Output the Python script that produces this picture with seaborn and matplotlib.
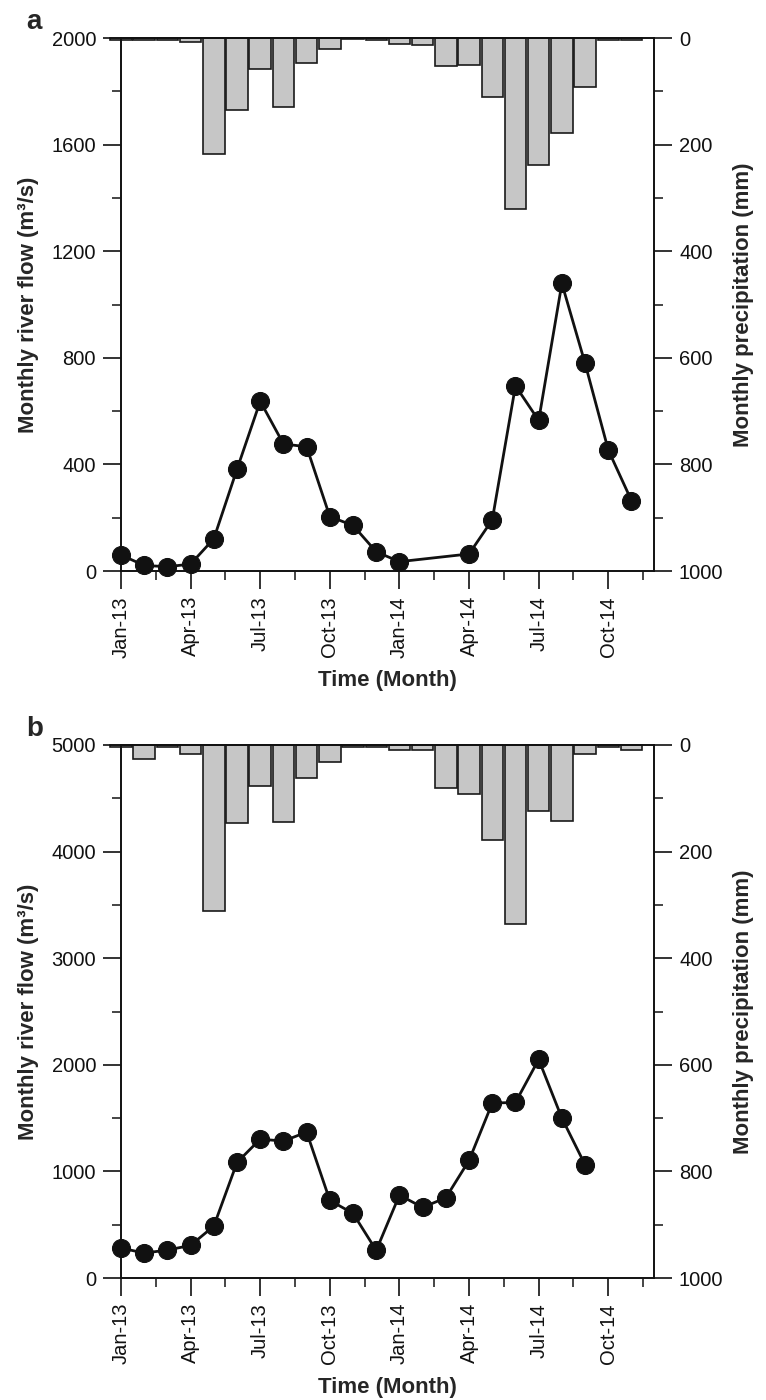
import numpy as np
import pandas as pd
import matplotlib
matplotlib.use("Agg")
import matplotlib.pyplot as plt
import seaborn as sns
from matplotlib.ticker import FixedLocator, MultipleLocator

# monthly series, Jan-13 .. Nov-14
months = ["Jan-13", "Feb-13", "Mar-13", "Apr-13", "May-13", "Jun-13", "Jul-13", "Aug-13",
          "Sep-13", "Oct-13", "Nov-13", "Dec-13", "Jan-14", "Feb-14", "Mar-14", "Apr-14",
          "May-14", "Jun-14", "Jul-14", "Aug-14", "Sep-14", "Oct-14", "Nov-14"]
tick_labels = ["Jan-13", "Apr-13", "Jul-13", "Oct-13", "Jan-14", "Apr-14", "Jul-14", "Oct-14"]

nan = np.nan
# panel a
flow_a = [60, 21, 16, 26, 121, 382, 637, 477, 466, 204, 171, 72, 35, nan, nan, 64,
          192, 695, 565, 1079, 779, 454, 264]
precip_a = [4, 4, 4, 7, 217, 136, 58, 129, 47, 21, 2, 4, 11, 14, 52, 51,
            111, 320, 238, 178, 92, 4, 4]
# panel b
flow_b = [281, 234, 262, 306, 487, 1084, 1303, 1284, 1369, 728, 606, 259, 778, 662, 753, 1103,
          1641, 1647, 2050, 1500, 1062, nan, nan]
precip_b = [3, 27, 3, 16, 312, 146, 77, 144, 62, 32, 3, 3, 9, 10, 80, 91,
            179, 336, 124, 143, 17, 3, 10]

sns.set_theme(style="ticks")
plt.rcParams['font.family'] = ['Liberation Sans', 'DejaVu Sans']

TICK_FS = 14.5
LABEL_FS = 16


def draw_panel(ax, flow, precip, flow_max, letter, letter_y):
    df = pd.DataFrame({"month": np.arange(len(months)), "flow": flow, "precip": precip})

    # precipitation bars hanging from the top (inverted right axis)
    ax2 = ax.twinx()
    sns.barplot(data=df, x="month", y="precip", orient="x", native_scale=True,
                width=0.925, color="#c6c6c6", saturation=1, edgecolor="#1a1a1a",
                linewidth=1.2, errorbar=None, ax=ax2)
    for p in ax2.patches:
        p.set_clip_on(False)
    ax2.set_ylim(1000, 0)

    # river flow line
    sns.lineplot(data=df, x="month", y="flow", marker="o", markersize=13,
                 color="#111111", markeredgecolor="#111111", linewidth=2, ax=ax)
    for ln in ax.lines:
        ln.set_clip_on(False)
    ax.set_zorder(ax2.get_zorder() + 1)
    ax.patch.set_visible(False)

    ax.set_xlim(0, 22.97)
    ax.set_ylim(0, flow_max)

    ax.xaxis.set_major_locator(FixedLocator(np.arange(0, 23, 3)))
    ax.xaxis.set_minor_locator(FixedLocator(np.arange(1.5, 23, 3)))
    ax.set_xticklabels(tick_labels, rotation=90)
    ax.yaxis.set_major_locator(MultipleLocator(flow_max / 5))
    ax.yaxis.set_minor_locator(MultipleLocator(flow_max / 10))
    ax2.yaxis.set_major_locator(MultipleLocator(200))
    ax2.yaxis.set_minor_locator(MultipleLocator(100))

    for a in (ax, ax2):
        a.tick_params(which="major", length=13, width=1.2, direction="out",
                      labelsize=TICK_FS, pad=5, colors="#111111")
        a.tick_params(which="minor", length=6.5, width=1.2, direction="out")
        for s in a.spines.values():
            s.set_linewidth(1.2)
            s.set_color("#111111")

    ax.set_xlabel("Time (Month)", fontsize=LABEL_FS, fontweight="bold", labelpad=9)
    ax.set_ylabel("Monthly river flow (m³/s)", fontsize=LABEL_FS, fontweight="bold", labelpad=9)
    ax2.set_ylabel("Monthly precipitation (mm)", fontsize=LABEL_FS, fontweight="bold",
                   labelpad=7)

    ax.figure.text(26 / 766, letter_y, letter, fontsize=20, fontweight="bold",
                   va="baseline", ha="left")


fig = plt.figure(figsize=(7.66, 14), dpi=100)
ax_a = fig.add_axes([121 / 766, 1 - 571 / 1400, 533 / 766, 533 / 1400])
ax_b = fig.add_axes([121 / 766, 1 - 1278 / 1400, 533 / 766, 533 / 1400])

draw_panel(ax_a, flow_a, precip_a, 2000, "a", 1 - 29 / 1400)
draw_panel(ax_b, flow_b, precip_b, 5000, "b", 1 - 736 / 1400)

fig.savefig("out.png", dpi=100)
